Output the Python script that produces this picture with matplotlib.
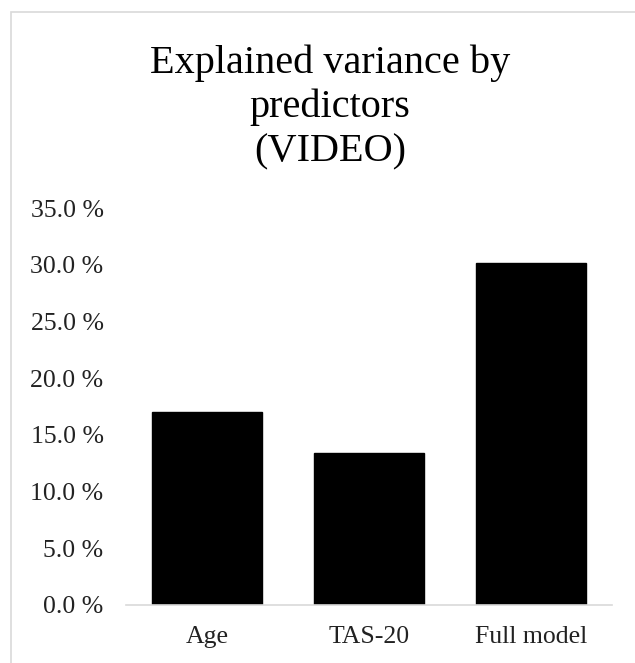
import matplotlib.pyplot as plt
from matplotlib.patches import Rectangle
from matplotlib.ticker import FuncFormatter

# explained variance (%) per predictor set
categories = ["Age", "TAS-20", "Full model"]
variance = [17.0, 13.4, 30.2]
yticks = [0, 5, 10, 15, 20, 25, 30, 35]

plt.rcParams['font.family'] = ['Liberation Serif', 'DejaVu Serif']

fig = plt.figure(figsize=(6.35, 6.63), dpi=100)
ax = fig.add_axes([0.198, 0.0875, 0.766, 0.5985])

x = range(len(categories))
ax.bar(x, variance, width=0.68, color="black", edgecolor="black", zorder=2)

ax.set_xlim(-0.5, len(categories) - 0.5)
ax.set_ylim(0, 35)
ax.set_yticks(yticks)
ax.yaxis.set_major_formatter(FuncFormatter(lambda v, p: f"{v:.1f} %"))
ax.set_xticks(list(x))
ax.set_xticklabels(categories)

for s in ["top", "right", "left"]:
    ax.spines[s].set_visible(False)
ax.spines["bottom"].set_color("#d9d9d9")
ax.spines["bottom"].set_linewidth(1.2)

ax.tick_params(axis="y", length=0, pad=16, labelsize=18.5, colors="#222222")
ax.tick_params(axis="x", length=0, pad=15, labelsize=18.5, colors="#222222")

fig.text(0.52, 0.838, "Explained variance by\npredictors\n(VIDEO)",
         ha="center", va="center", fontsize=29, linespacing=1.25)

# light frame around the chart area (runs off the right and bottom edges)
fig.patches.append(Rectangle((11 / 635, -0.1), 1.2, 1.1 - 12 / 663,
                             transform=fig.transFigure, fill=False,
                             edgecolor="#d9d9d9", linewidth=1.2))

fig.savefig("out.png", dpi=100)
